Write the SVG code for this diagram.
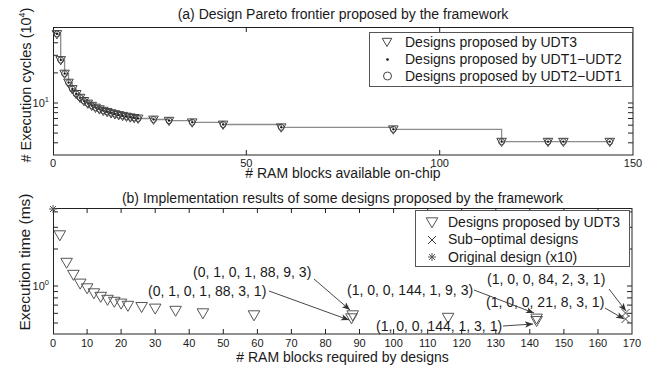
<svg xmlns="http://www.w3.org/2000/svg" width="662" height="369" viewBox="0 0 662 369">
<style>
text{font-family:"Liberation Sans",Arial,sans-serif;fill:#1a1a1a}
.t14{font-size:14px}
.tk{font-size:11px}
.ax{fill:none;stroke:#222;stroke-width:1}
.tick{fill:none;stroke:#222;stroke-width:1}
.step{fill:none;stroke:#8c8c8c;stroke-width:1.3}
.leg{fill:#fff;stroke:#555;stroke-width:1}
.arr{fill:none;stroke:#333;stroke-width:0.9}
</style>
<defs>
<g id="mA">
<polygon points="-4.8,-3.4 4.8,-3.4 0,4.9" fill="none" stroke="#444" stroke-width="1"/>
<circle r="3" fill="none" stroke="#444" stroke-width="1"/>
<circle r="1.1" fill="#111"/>
</g>
<polygon id="mB" points="-5.8,-4.2 5.8,-4.2 0,5.8" fill="none" stroke="#555" stroke-width="1"/>
<path id="mX" d="M-4,-4L4,4M-4,4L4,-4" stroke="#444" stroke-width="1" fill="none"/>
<path id="mS" d="M-4,0H4M0,-4V4M-3,-3L3,3M-3,3L3,-3" stroke="#555" stroke-width="1" fill="none"/>
<marker id="ah" markerUnits="userSpaceOnUse" markerWidth="12" markerHeight="10" viewBox="-9 -5 10 10" refX="0" refY="0" orient="auto">
<path d="M0,0L-8,-3.2L-6,0L-8,3.2z" fill="#333"/>
</marker>
</defs>

<!-- (a) plot -->
<g id="plot-a">
<text class="t14" x="343" y="19" text-anchor="middle">(a) Design Pareto frontier proposed by the framework</text>
<rect class="ax" x="53.5" y="27.5" width="579.5" height="127.5"/>
<path class="tick" d="M53,33.1h5M53,42.8h5M53,55.3h5M53,72.9h5M53,103h5M53,107.6h5M53,112.7h5M53,118.5h5M53,125.2h5M53,133.1h5M53,142.8h5M633,33.1h-5M633,42.8h-5M633,55.3h-5M633,72.9h-5M633,103h-5M633,107.6h-5M633,112.7h-5M633,118.5h-5M633,125.2h-5M633,133.1h-5M633,142.8h-5M246.3,155v-5M439.7,155v-5M246.3,27v5M439.7,27v5"/>
<text class="tk" x="53" y="167" text-anchor="middle">0</text>
<text class="tk" x="246.3" y="167" text-anchor="middle">50</text>
<text class="tk" x="439.7" y="167" text-anchor="middle">100</text>
<text class="tk" x="633" y="167" text-anchor="middle">150</text>
<text class="tk" x="49" y="107" text-anchor="end">10<tspan font-size="7.5" dy="-5">1</tspan></text>
<text class="t14" x="343" y="178" text-anchor="middle"># RAM blocks available on-chip</text>
<text class="t14" style="font-size:14.5px" transform="translate(31,85) rotate(-90)" text-anchor="middle"># Execution cycles (10<tspan font-size="9" dy="-6">4</tspan><tspan dy="6">)</tspan></text>
</g>

<g id="series-a">
<path class="step" d="M56.9,34H60.7V60H64.6V73.6H68.5V82.6H72.3V89H76.2V93.9H80.1V97.7H83.9V100.9H87.8V103.5H91.7V105.7H95.5V107.6H99.4V109.2H103.3V110.7H107.1V111.9H111V113.1H114.9V114.1H118.7V115H122.6V115.8H126.5V116.6H130.3V117.3H134.2V117.9H138.1V118.5H153.5V119.5H169V120.7H192.2V122.3H223.1V124.5H281.2V127.3H393.3V129.3H501.6V141.7H609.8"/>
<use href="#mA" x="56.9" y="34"/>
<use href="#mA" x="60.7" y="60"/>
<use href="#mA" x="64.6" y="73.6"/>
<use href="#mA" x="68.5" y="82.6"/>
<use href="#mA" x="72.3" y="89"/>
<use href="#mA" x="76.2" y="93.9"/>
<use href="#mA" x="80.1" y="97.7"/>
<use href="#mA" x="83.9" y="100.9"/>
<use href="#mA" x="87.8" y="103.5"/>
<use href="#mA" x="91.7" y="105.7"/>
<use href="#mA" x="95.5" y="107.6"/>
<use href="#mA" x="99.4" y="109.2"/>
<use href="#mA" x="103.3" y="110.7"/>
<use href="#mA" x="107.1" y="111.9"/>
<use href="#mA" x="111" y="113.1"/>
<use href="#mA" x="114.9" y="114.1"/>
<use href="#mA" x="118.7" y="115"/>
<use href="#mA" x="122.6" y="115.8"/>
<use href="#mA" x="126.5" y="116.6"/>
<use href="#mA" x="130.3" y="117.3"/>
<use href="#mA" x="134.2" y="117.9"/>
<use href="#mA" x="138.1" y="118.5"/>
<use href="#mA" x="153.5" y="119.5"/>
<use href="#mA" x="169" y="120.7"/>
<use href="#mA" x="192.2" y="122.3"/>
<use href="#mA" x="223.1" y="124.5"/>
<use href="#mA" x="281.2" y="127.3"/>
<use href="#mA" x="393.3" y="129.3"/>
<use href="#mA" x="501.6" y="141.7"/>
<use href="#mA" x="548" y="141.7"/>
<use href="#mA" x="563.4" y="141.7"/>
<use href="#mA" x="609.8" y="141.7"/>
</g>

<g id="legend-a">
<rect class="leg" x="369.5" y="32.5" width="263" height="54"/>
<polygon points="382.2,38.3 391.8,38.3 387,46.5" fill="none" stroke="#444"/>
<text class="t14" x="405" y="47">Designs proposed by UDT3</text>
<circle cx="387.5" cy="59.5" r="1.3" fill="#111"/>
<text class="t14" x="405" y="64">Designs proposed by UDT1−UDT2</text>
<circle cx="387.5" cy="76" r="4" fill="none" stroke="#444"/>
<text class="t14" x="405" y="81">Designs proposed by UDT2−UDT1</text>
</g>

<!-- (b) plot -->
<g id="plot-b">
<text class="t14" x="342.5" y="203" text-anchor="middle">(b) Implementation results of some designs proposed by the framework</text>
<rect class="ax" x="53.5" y="208.5" width="578.5" height="125.5"/>
<path class="tick" d="M53,211.9h5M53,227.3h5M53,249h5M53,286h5M53,291.6h5M53,297.9h5M53,305.1h5M53,313.3h5M53,323h5M632,211.9h-5M632,227.3h-5M632,249h-5M632,286h-5M632,291.6h-5M632,297.9h-5M632,305.1h-5M632,313.3h-5M632,323h-5M87.1,334v-5M121.1,334v-5M155.2,334v-5M189.2,334v-5M223.3,334v-5M257.4,334v-5M291.4,334v-5M325.5,334v-5M359.5,334v-5M393.6,334v-5M427.7,334v-5M461.7,334v-5M495.8,334v-5M529.8,334v-5M563.9,334v-5M598,334v-5M87.1,208v5M121.1,208v5M155.2,208v5M189.2,208v5M223.3,208v5M257.4,208v5M291.4,208v5M325.5,208v5M359.5,208v5M393.6,208v5M427.7,208v5M461.7,208v5M495.8,208v5M529.8,208v5M563.9,208v5M598,208v5"/>
<g class="tk" text-anchor="middle">
<text class="tk" x="53" y="347">0</text>
<text class="tk" x="87.1" y="347">10</text>
<text class="tk" x="121.1" y="347">20</text>
<text class="tk" x="155.2" y="347">30</text>
<text class="tk" x="189.2" y="347">40</text>
<text class="tk" x="223.3" y="347">50</text>
<text class="tk" x="257.4" y="347">60</text>
<text class="tk" x="291.4" y="347">70</text>
<text class="tk" x="325.5" y="347">80</text>
<text class="tk" x="359.5" y="347">90</text>
<text class="tk" x="393.6" y="347">100</text>
<text class="tk" x="427.7" y="347">110</text>
<text class="tk" x="461.7" y="347">120</text>
<text class="tk" x="495.8" y="347">130</text>
<text class="tk" x="529.8" y="347">140</text>
<text class="tk" x="563.9" y="347">150</text>
<text class="tk" x="598" y="347">160</text>
<text class="tk" x="632" y="347">170</text>
</g>
<text class="tk" x="49" y="290" text-anchor="end">10<tspan font-size="7.5" dy="-5">0</tspan></text>
<text class="t14" x="342.5" y="362" text-anchor="middle"># RAM blocks required by designs</text>
<text class="t14" style="font-size:15.5px" transform="translate(30,262) rotate(-90)" text-anchor="middle">Execution time (ms)</text>
</g>

<g id="series-b">
<use href="#mS" x="53" y="209"/>
<use href="#mB" x="59.8" y="235"/>
<use href="#mB" x="66.6" y="262.5"/>
<use href="#mB" x="73.4" y="274.5"/>
<use href="#mB" x="80.2" y="283.3"/>
<use href="#mB" x="87.1" y="288"/>
<use href="#mB" x="93.9" y="293"/>
<use href="#mB" x="100.7" y="296.5"/>
<use href="#mB" x="107.5" y="299.5"/>
<use href="#mB" x="114.3" y="301.5"/>
<use href="#mB" x="121.1" y="303.3"/>
<use href="#mB" x="127.9" y="305.5"/>
<use href="#mB" x="141.6" y="306.7"/>
<use href="#mB" x="155.2" y="308.3"/>
<use href="#mB" x="175.6" y="310.5"/>
<use href="#mB" x="202.9" y="313"/>
<use href="#mB" x="254" y="315"/>
<use href="#mB" x="352.7" y="315"/>
<use href="#mB" x="351.5" y="318"/>
<use href="#mB" x="448.1" y="317.5"/>
<use href="#mB" x="536.6" y="318.3"/>
<use href="#mB" x="536.6" y="320.7"/>
<use href="#mX" x="625.5" y="313"/>
<use href="#mX" x="625.5" y="319"/>
</g>

<g id="legend-b">
<rect class="leg" x="415.5" y="210.5" width="214" height="56"/>
<polygon points="426.2,217.8 437.8,217.8 432,227.8" fill="none" stroke="#555"/>
<text class="t14" x="448" y="227">Designs proposed by UDT3</text>
<path d="M428,236L436,244M428,244L436,236" stroke="#444" fill="none"/>
<text class="t14" x="448" y="244">Sub−optimal designs</text>
<path d="M428,257H436M432,253V261M429,254L435,260M429,260L435,254" stroke="#555" fill="none"/>
<text class="t14" x="448" y="262">Original design (x10)</text>
</g>

<g id="label-1"><text class="t14" x="193" y="277">(0, 1, 0, 1, 88, 9, 3)</text></g>
<g id="label-2"><text class="t14" x="148" y="296">(0, 1, 0, 1, 88, 3, 1)</text></g>
<g id="label-3"><text class="t14" x="347" y="295">(1, 0, 0, 144, 1, 9, 3)</text></g>
<g id="label-4"><text class="t14" x="487" y="284">(1, 0, 0, 84, 2, 3, 1)</text></g>
<g id="label-5"><text class="t14" x="486" y="307">(1, 0, 0, 21, 8, 3, 1)</text></g>
<g id="label-6"><text class="t14" x="376" y="331">(1, 0, 0, 144, 1, 3, 1)</text></g>

<g id="connectors">
<path class="arr" d="M314,279L350,310" marker-end="url(#ah)"/>
<path class="arr" d="M269,291L349,320" marker-end="url(#ah)"/>
<path class="arr" d="M474,290L534,313" marker-end="url(#ah)"/>
<path class="arr" d="M609,289L626,311" marker-end="url(#ah)"/>
<path class="arr" d="M605,308L624,319" marker-end="url(#ah)"/>
<path class="arr" d="M503,326L533,324" marker-end="url(#ah)"/>
</g>
</svg>
